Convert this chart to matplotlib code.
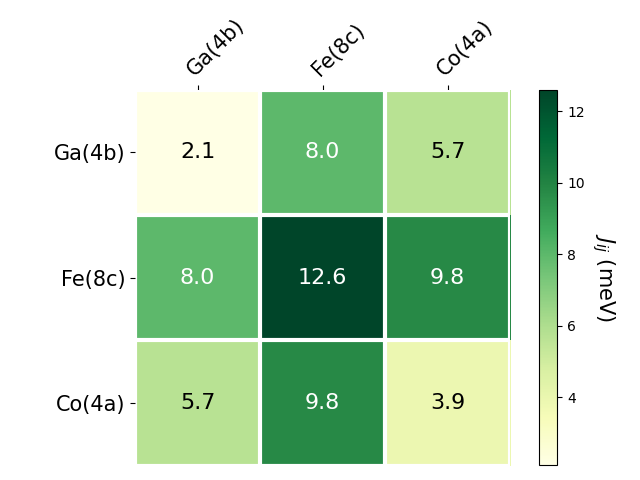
import numpy as np
import matplotlib
matplotlib.use("Agg")
import matplotlib.pyplot as plt

sites = ["Ga(4b)", "Fe(8c)", "Co(4a)"]
J = np.array([[2.1, 8.0, 5.7],
              [8.0, 12.6, 9.8],
              [5.7, 9.8, 3.9]])

fig = plt.figure(figsize=(6.4, 4.8), dpi=100)
ax = fig.add_axes([0.211, 0.030, 0.586, 0.783])
cax = fig.add_axes([0.842, 0.031, 0.029, 0.7815])

im = ax.imshow(J, cmap="YlGn", aspect="auto")
cbar = fig.colorbar(im, cax=cax)
cbar.set_label("$J_{ij}$ (meV)", rotation=-90, va="bottom", fontsize=15)

ax.set_xticks(np.arange(len(sites)))
ax.set_yticks(np.arange(len(sites)))
ax.set_xticklabels(sites, fontsize=15)
ax.set_yticklabels(sites, fontsize=15)
ax.tick_params(top=True, bottom=False, labeltop=True, labelbottom=False)
plt.setp(ax.get_xticklabels(), rotation=45, ha="left", rotation_mode="anchor")

for s in ax.spines.values():
    s.set_visible(False)
ax.set_xticks(np.arange(J.shape[1] + 1) - .5, minor=True)
ax.set_yticks(np.arange(J.shape[0] + 1) - .5, minor=True)
ax.grid(which="minor", color="w", linestyle="-", linewidth=3)
ax.tick_params(which="minor", bottom=False, left=False, top=False)

for i in range(J.shape[0]):
    for j in range(J.shape[1]):
        c = "white" if J[i, j] > 7 else "black"
        ax.text(j, i, f"{J[i, j]:.1f}", ha="center", va="center", color=c, fontsize=16)

fig.savefig("out.png")
